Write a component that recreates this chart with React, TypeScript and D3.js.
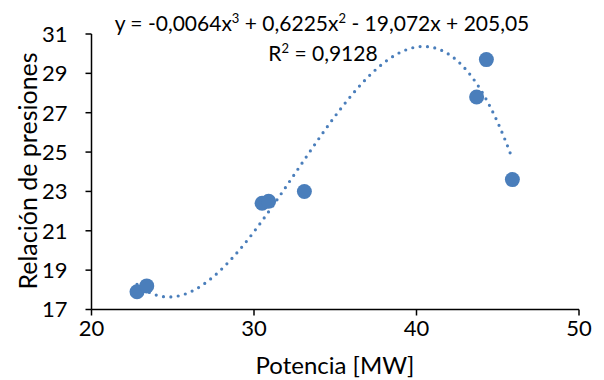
import React from "react";
import * as d3 from "d3";

const potencia = [22.8, 23.4, 30.5, 30.9, 33.1, 43.7, 44.3, 45.9];
const relacion = [17.9, 18.2, 22.4, 22.5, 23.0, 27.8, 29.7, 23.6];
const xTicks = [20, 30, 40, 50];
const yTicks = [17, 19, 21, 23, 25, 27, 29, 31];
const equationText = ["y = -0,0064x", "3", " + 0,6225x", "2", " - 19,072x + 205,05"];
const r2Text = ["R", "2", " = 0,9128"];

const W = 604, H = 380;
const left = 91.5, right = 579, top = 34, bottom = 309.5;
const color = "#4a7ebb";
const font = "Lato, 'Open Sans', sans-serif";

function fitCubic(xs: number[], ys: number[]) {
  const m = d3.mean(xs) as number;
  const n = 4;
  const A: number[][] = Array.from({ length: n }, () => new Array(n + 1).fill(0));
  xs.forEach((x0, k) => {
    const x = x0 - m;
    const p = [1, x, x * x, x * x * x];
    for (let i = 0; i < n; i++) {
      for (let j = 0; j < n; j++) A[i][j] += p[i] * p[j];
      A[i][n] += p[i] * ys[k];
    }
  });
  for (let i = 0; i < n; i++) {
    let piv = i;
    for (let r = i + 1; r < n; r++) if (Math.abs(A[r][i]) > Math.abs(A[piv][i])) piv = r;
    [A[i], A[piv]] = [A[piv], A[i]];
    for (let r = 0; r < n; r++) {
      if (r === i) continue;
      const f = A[r][i] / A[i][i];
      for (let c = i; c <= n; c++) A[r][c] -= f * A[i][c];
    }
  }
  const c = A.map((row, i) => row[n] / row[i]);
  return (x0: number) => {
    const x = x0 - m;
    return c[0] + c[1] * x + c[2] * x * x + c[3] * x * x * x;
  };
}

export default function App() {
  const x = d3.scaleLinear().domain([20, 50]).range([left, right]);
  const y = d3.scaleLinear().domain([17, 31]).range([bottom, top]);
  const f = fitCubic(potencia, relacion);
  const [xmin, xmax] = d3.extent(potencia) as [number, number];
  const pts = d3.range(0, 201).map((i) => xmin + ((xmax - xmin) * i) / 200);
  const line = d3
    .line<number>()
    .x((d) => x(d))
    .y((d) => y(f(d)))
    .curve(d3.curveLinear);

  return (
    <svg width={W} height={H} style={{ position: "absolute", left: 0, top: 0, background: "#fff" }}>
      <rect width={W} height={H} fill="#fff" />
      {/* axes */}
      <line x1={left} x2={left} y1={top} y2={bottom} stroke="#000" strokeWidth={1.5} />
      <line x1={left} x2={right} y1={bottom} y2={bottom} stroke="#000" strokeWidth={1.5} />
      {yTicks.map((t) => (
        <g key={"y" + t}>
          <line x1={left - 6} x2={left} y1={y(t)} y2={y(t)} stroke="#000" strokeWidth={1.5} />
          <text x={left - 24} y={y(t)} dy="0.36em" textAnchor="end" fontFamily={font} fontSize={22} fill="#000">
            {t}
          </text>
        </g>
      ))}
      {xTicks.map((t) => (
        <g key={"x" + t}>
          <line x1={x(t)} x2={x(t)} y1={bottom} y2={bottom + 6} stroke="#000" strokeWidth={1.5} />
          <text x={x(t)} y={336} textAnchor="middle" fontFamily={font} fontSize={22} fill="#000">
            {t}
          </text>
        </g>
      ))}
      {/* trendline */}
      <path
        d={line(pts) || ""}
        fill="none"
        stroke={color}
        strokeWidth={3.2}
        strokeLinecap="round"
        strokeDasharray="0 7.4"
      />
      {/* points */}
      {potencia.map((p, i) => (
        <circle key={i} cx={x(p)} cy={y(relacion[i])} r={7.5} fill={color} />
      ))}
      {/* equation */}
      <text x={322} y={31} textAnchor="middle" fontFamily={font} fontSize={21} fill="#000">
        <tspan>{equationText[0]}</tspan>
        <tspan fontSize={13} dy={-8}>{equationText[1]}</tspan>
        <tspan dy={8}>{equationText[2]}</tspan>
        <tspan fontSize={13} dy={-8}>{equationText[3]}</tspan>
        <tspan dy={8}>{equationText[4]}</tspan>
      </text>
      <text x={323} y={61} textAnchor="middle" fontFamily={font} fontSize={21} fill="#000">
        <tspan>{r2Text[0]}</tspan>
        <tspan fontSize={13} dy={-8}>{r2Text[1]}</tspan>
        <tspan dy={8}>{r2Text[2]}</tspan>
      </text>
      {/* axis titles */}
      <text x={335} y={374} textAnchor="middle" fontFamily={font} fontSize={24} fill="#000">
        Potencia [MW]
      </text>
      <text
        transform={`translate(37,171) rotate(-90)`}
        textAnchor="middle"
        fontFamily={font}
        fontSize={25}
        fill="#000"
      >
        Relación de presiones
      </text>
    </svg>
  );
}
